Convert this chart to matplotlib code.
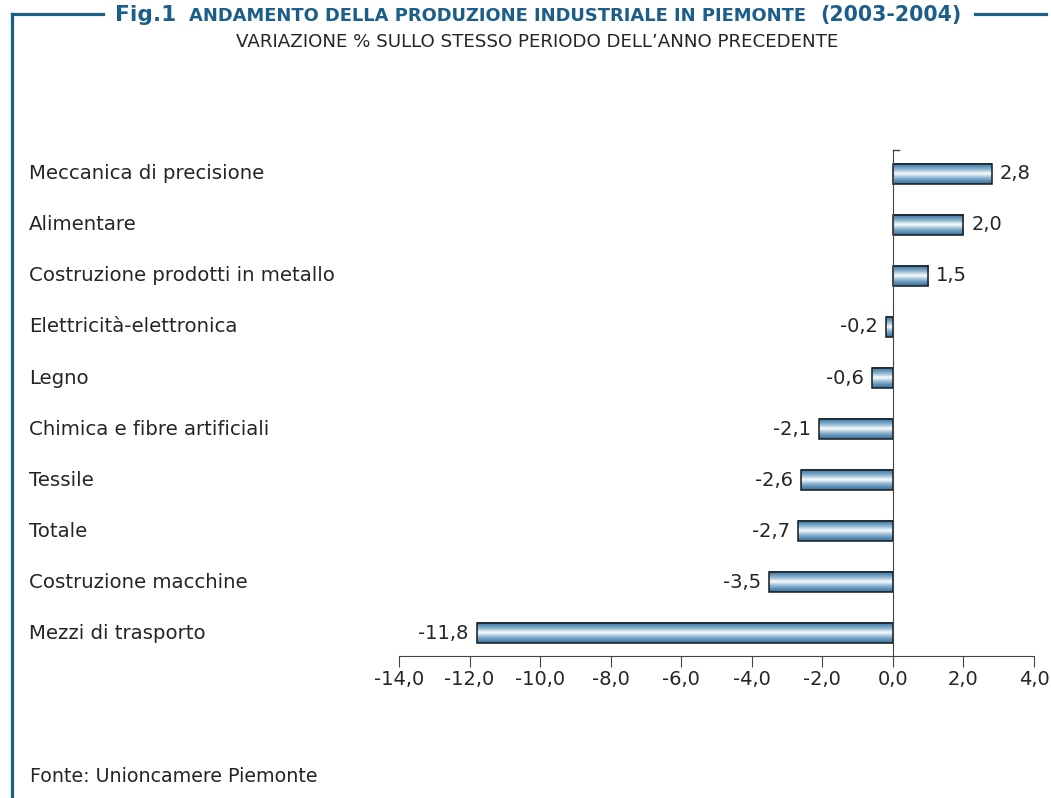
import matplotlib
matplotlib.use("Agg")
import matplotlib.pyplot as plt
import numpy as np
from matplotlib.colors import LinearSegmentedColormap
from matplotlib.patches import Rectangle
from matplotlib.lines import Line2D

categories = ["Meccanica di precisione", "Alimentare", "Costruzione prodotti in metallo",
              "Elettricità-elettronica", "Legno", "Chimica e fibre artificiali",
              "Tessile", "Totale", "Costruzione macchine", "Mezzi di trasporto"]
# bar lengths as drawn in the reference (the 1,5 bar is drawn at about 1,0)
values = [2.8, 2.0, 1.0, -0.2, -0.6, -2.1, -2.6, -2.7, -3.5, -11.8]
value_labels = ["2,8", "2,0", "1,5", "-0,2", "-0,6", "-2,1", "-2,6", "-2,7", "-3,5", "-11,8"]
xticks = [-14, -12, -10, -8, -6, -4, -2, 0, 2, 4]

plt.rcParams['font.family'] = ['DejaVu Sans']
BLUE = "#1b5e8a"
TXT = "#252525"
W, H = 1051, 798

fig = plt.figure(figsize=(W/100, H/100), dpi=100)
ax = fig.add_axes([399/W, 1-656/H, (1034-399)/W, (656-150)/H])

n = len(categories)
ypos = np.arange(n)[::-1]
h = 0.4
cmap = LinearSegmentedColormap.from_list("g", [(0, "#3a719a"), (0.15, "#5b90b8"), (0.32, "#9bbdd6"),
                                               (0.5, "#ffffff"), (0.68, "#9bbdd6"),
                                               (0.85, "#5b90b8"), (1, "#3a719a")])
grad = np.linspace(0, 1, 64).reshape(-1, 1)
for y, v, lab in zip(ypos, values, value_labels):
    x0, x1 = min(0, v), max(0, v)
    ax.imshow(grad, cmap=cmap, aspect='auto', extent=(x0, x1, y - h/2, y + h/2),
              origin='upper', zorder=2, interpolation='bicubic')
    ax.add_patch(Rectangle((x0, y - h/2), x1 - x0, h, fill=False, edgecolor="#1a1a1a",
                           lw=1.1, zorder=3))
    if v >= 0:
        ax.annotate(lab, (v, y), xytext=(8, 0), textcoords='offset pixels', ha='left',
                    va='center', fontsize=14, color=TXT)
    else:
        ax.annotate(lab, (v, y), xytext=(-8, 0), textcoords='offset pixels', ha='right',
                    va='center', fontsize=14, color=TXT)

ax.set_xlim(-14, 4)
ax.set_ylim(-0.45, 9.47)
ax.set_xticks(xticks)
ax.set_xticklabels([f"{t:.1f}".replace(".", ",") for t in xticks], fontsize=14, color=TXT)
ax.set_yticks([])
for s in ['top', 'right']:
    ax.spines[s].set_visible(False)
ax.spines['left'].set_position(('data', 0))
ax.spines['left'].set_color("#444444")
ax.spines['bottom'].set_color("#444444")
ax.spines['left'].set_zorder(4)
ax.tick_params(axis='x', direction='out', length=8, color="#444444", pad=2)
ax.add_line(Line2D([0, 0.17], [9.47, 9.47], color="#444444", lw=1, clip_on=False))

for y, c in zip(ypos, categories):
    ax.annotate(c, (0, y), xycoords=('figure fraction', 'data'), xytext=(29, 0),
                textcoords='offset pixels', ha='left', va='center', fontsize=14.2, color=TXT)

# frame
fig.add_artist(Line2D([12/W, 12/W], [0, 1-14/H], color=BLUE, lw=2.3))
fig.add_artist(Line2D([12/W, 103/W], [1-14/H, 1-14/H], color=BLUE, lw=2.3))
fig.add_artist(Line2D([975/W, 1046/W], [1-14/H, 1-14/H], color=BLUE, lw=2.3))

fig.canvas.draw()
r = fig.canvas.get_renderer()

def fit(t, target):
    w = t.get_window_extent(r).width
    t.set_fontsize(t.get_fontsize() * target / w)

tb = 1 - 21/H  # baseline of title
t1 = fig.text(115/W, tb, "Fig.1", fontsize=16, fontweight='bold', color=BLUE, va='baseline', ha='left')
t2 = fig.text(189/W, tb, "ANDAMENTO DELLA PRODUZIONE INDUSTRIALE IN PIEMONTE", fontsize=12.5,
              fontweight='bold', color=BLUE, va='baseline', ha='left')
t3 = fig.text(820/W, tb, "(2003-2004)", fontsize=16, fontweight='bold', color=BLUE,
              va='baseline', ha='left')
fit(t1, 61); fit(t2, 621); fit(t3, 142)

t4 = fig.text(537/W, 1-47/H, "VARIAZIONE % SULLO STESSO PERIODO DELL’ANNO PRECEDENTE", fontsize=10.5,
              color=TXT, ha='center', va='baseline')
fit(t4, 605)

t5 = fig.text(30/W, 1-776/H, "Fonte: Unioncamere Piemonte", fontsize=13.5, color=TXT,
              ha='left', va='center')
fit(t5, 287)

fig.savefig("out.png", dpi=100)
